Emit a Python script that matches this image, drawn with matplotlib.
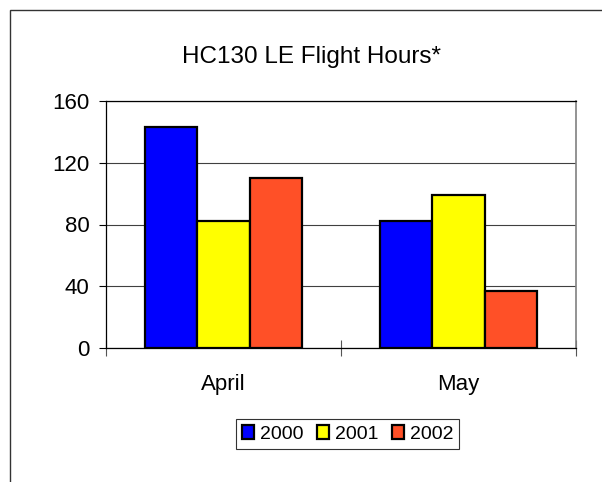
import numpy as np
import matplotlib
matplotlib.use("Agg")
import matplotlib.pyplot as plt
from matplotlib.patches import Rectangle

plt.rcParams['font.family'] = ['Liberation Sans', 'DejaVu Sans']

# data
months = ["April", "May"]
years = ["2000", "2001", "2002"]
hours_2000 = [143, 82]
hours_2001 = [82, 99]
hours_2002 = [110, 37]
colors = ["#0000FF", "#FFFF00", "#FF5027"]

fig = plt.figure(figsize=(6.02, 4.82), dpi=100)

# outer chart frame (runs off the right and bottom of the picture)
fig.patches.append(Rectangle((10 / 602, -0.2), 1.2, 1.2 - 10 / 482,
                             transform=fig.transFigure, fill=False,
                             edgecolor="#333333", linewidth=1.0))

ax = fig.add_axes([106 / 602, 1 - 348 / 482, 470 / 602, 247 / 482])

x = np.arange(len(months))
w = 1 / 4.5
series = [hours_2000, hours_2001, hours_2002]
for i, (vals, c, lab) in enumerate(zip(series, colors, years)):
    ax.bar(x + (i - 1) * w, vals, width=w, color=c, edgecolor="black",
           linewidth=1.6, label=lab, zorder=3)

ax.set_xlim(-0.5, 1.5)
ax.set_ylim(0, 160)
ax.set_yticks([0, 40, 80, 120, 160])
ax.yaxis.grid(True, color="#404040", linewidth=0.8, zorder=0)
ax.tick_params(axis="y", direction="out", length=5, width=0.8, pad=7,
               labelsize=16)

ax.set_xticks(x)
ax.set_xticklabels(months)
ax.tick_params(axis="x", which="major", length=0, pad=19, labelsize=16)
ax.set_xticks([-0.5, 0.5, 1.5], minor=True)
ax.tick_params(axis="x", which="minor", direction="inout", length=11,
               width=0.8, color="#555555")

for s in ["left", "bottom", "top"]:
    ax.spines[s].set_color("black")
    ax.spines[s].set_linewidth(0.9)
ax.spines["right"].set_color("#808080")
ax.spines["right"].set_linewidth(1.2)

fig.text(311 / 602, 1 - 63 / 482, "HC130 LE Flight Hours*", ha="center",
         va="baseline", fontsize=17.5)

leg = fig.legend(loc="center", bbox_to_anchor=(347.5 / 602, 1 - 434 / 482),
                 ncol=3, fontsize=14, handlelength=0.63, handleheight=0.77,
                 handletextpad=0.3, columnspacing=0.7, borderpad=0.3,
                 fancybox=False, framealpha=1, edgecolor="#333333")
leg.get_frame().set_linewidth(0.8)

fig.savefig("out.png", dpi=100)
